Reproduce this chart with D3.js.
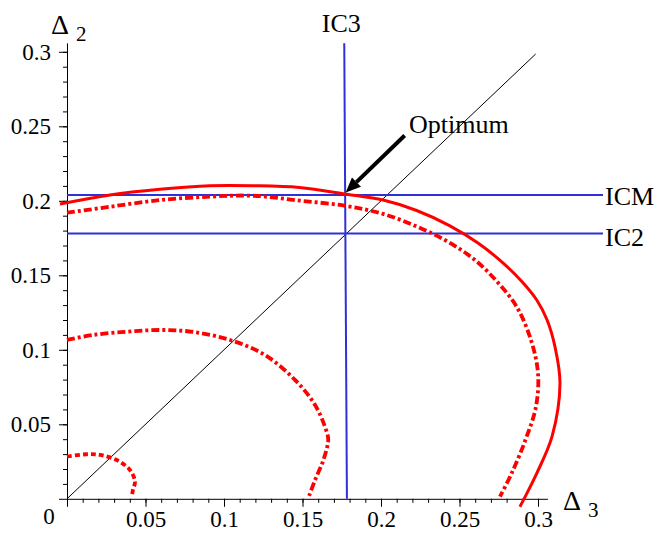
<!DOCTYPE html>
<html lang="en">
<head>
<meta charset="UTF-8">
<title>Isocurves</title>
<script src="https://cdn.jsdelivr.net/npm/d3@7"></script>
<style>
  body { margin: 0; background: #fff; }
</style>
</head>
<body>
<script>
// tick values
const xTicks = [0.05, 0.1, 0.15, 0.2, 0.25, 0.3];
const yTicks = [0.05, 0.1, 0.15, 0.2, 0.25, 0.3];
const tickLabels = ["0.05", "0.1", "0.15", "0.2", "0.25", "0.3"];

// red level curves, [delta3, delta2]
const curveSolid = [
  [-0.0045, 0.1978], [0.0274, 0.2039], [0.0592, 0.2077], [0.0911, 0.2101],
  [0.1185, 0.2101], [0.148, 0.2089], [0.1782, 0.2044], [0.2013, 0.2005],
  [0.2227, 0.1935], [0.2439, 0.1832], [0.2620, 0.1715], [0.2780, 0.1580],
  [0.2900, 0.1455], [0.2992, 0.1334], [0.3058, 0.1200], [0.3108, 0.1021],
  [0.3140, 0.0775], [0.3090, 0.0420], [0.2992, 0.0171], [0.2885, -0.0053]
];
const curveOuter = [
  [0, 0.192], [0.0274, 0.196], [0.0592, 0.2005], [0.0911, 0.2028],
  [0.1185, 0.2034], [0.1484, 0.2001], [0.1782, 0.1965], [0.2013, 0.1912],
  [0.2227, 0.1828], [0.2418, 0.1730], [0.2590, 0.1610], [0.2737, 0.1460],
  [0.2864, 0.1289], [0.2955, 0.1066], [0.3000, 0.0842], [0.2987, 0.0618],
  [0.2920, 0.0395], [0.2832, 0.0171], [0.2758, 0.0014]
];
const curveMiddle = [
  [0, 0.1066], [0.0168, 0.110], [0.038, 0.1121], [0.0592, 0.1133],
  [0.0804, 0.112], [0.1038, 0.1066], [0.1261, 0.0965], [0.1452, 0.0798],
  [0.158, 0.063], [0.165, 0.0462], [0.1664, 0.0395], [0.1633, 0.026],
  [0.158, 0.0126], [0.1537, 0.0005]
];
const curveSmall = [
  [0, 0.0283], [0.0125, 0.0299], [0.021, 0.0294], [0.0317, 0.026],
  [0.0401, 0.0193], [0.0433, 0.0115], [0.042, 0.0059], [0.0412, 0.0014]
];

// blue isocurves
const ic3Line = [[0.1766, 0.3057], [0.1783, 0]];
const icmLevel = 0.2039;
const ic2Level = 0.178;
const icEnd = 0.3414;
const diagonal = [[0, 0], [0.2985, 0.2985]];
const optimum = [0.1775, 0.2049];

const width = 654, height = 536;
const serif = "'Liberation Serif', 'Times New Roman', Times, 'DejaVu Serif', serif";
const svg = d3.select("body").append("svg")
  .attr("width", width).attr("height", height)
  .attr("font-family", serif);

const x = d3.scaleLinear().domain([0, 0.306]).range([67, 67 + 0.306 * 1570]);
const y = d3.scaleLinear().domain([0, 0.306]).range([498.8, 498.8 - 0.306 * 1490]);

const line = d3.line().x(d => x(d[0])).y(d => y(d[1]));
const smooth = d3.line().x(d => x(d[0])).y(d => y(d[1])).curve(d3.curveCatmullRom.alpha(0.5));

// minor ticks
const minor = d3.range(1, 31).map(i => i / 100);
svg.append("g").attr("transform", `translate(0,${y(0)})`)
  .call(d3.axisBottom(x).tickValues(minor).tickSize(4).tickSizeOuter(0).tickFormat(""))
  .call(g => g.select(".domain").remove());
svg.append("g").attr("transform", `translate(${x(0)},0)`)
  .call(d3.axisLeft(y).tickValues(minor).tickSize(4).tickSizeOuter(0).tickFormat(""))
  .call(g => g.select(".domain").remove());

// major ticks + axis lines
svg.append("g").attr("transform", `translate(0,${y(0)})`)
  .call(d3.axisBottom(x).tickValues([0].concat(xTicks)).tickSize(8).tickSizeOuter(0).tickPadding(4)
    .tickFormat(d => d === 0 ? "" : tickLabels[xTicks.indexOf(d)]))
  .attr("font-family", serif).attr("font-size", 23);
svg.append("g").attr("transform", `translate(${x(0)},0)`)
  .call(d3.axisLeft(y).tickValues([0].concat(yTicks)).tickSize(8).tickSizeOuter(0).tickPadding(8)
    .tickFormat(d => d === 0 ? "" : tickLabels[yTicks.indexOf(d)]))
  .attr("font-family", serif).attr("font-size", 23);

svg.append("text").attr("x", x(0) - 18).attr("y", y(0) + 25)
  .attr("text-anchor", "middle").attr("font-size", 23).text("0");

// axis titles
const t2 = svg.append("text").attr("x", 51).attr("y", 34).attr("font-size", 28);
t2.append("tspan").text("Δ");
t2.append("tspan").attr("dx", 7).attr("dy", 7).attr("font-size", 21).text("2");
const t3 = svg.append("text").attr("x", 563).attr("y", 510).attr("font-size", 28);
t3.append("tspan").text("Δ");
t3.append("tspan").attr("dx", 7).attr("dy", 7).attr("font-size", 21).text("3");

// diagonal
svg.append("path").attr("d", line(diagonal))
  .attr("fill", "none").attr("stroke", "#000").attr("stroke-width", 1);

// blue lines
const blue = "#3030d8";
svg.append("path").attr("d", line(ic3Line))
  .attr("fill", "none").attr("stroke", blue).attr("stroke-width", 2);
svg.append("path").attr("d", line([[0, icmLevel], [icEnd, icmLevel]]))
  .attr("fill", "none").attr("stroke", blue).attr("stroke-width", 2);
svg.append("path").attr("d", line([[0, ic2Level], [icEnd, ic2Level]]))
  .attr("fill", "none").attr("stroke", blue).attr("stroke-width", 2);

svg.append("text").attr("x", x(icEnd) + 2).attr("y", y(icmLevel) + 10)
  .attr("font-size", 26).text("ICM");
svg.append("text").attr("x", x(icEnd) + 2).attr("y", y(ic2Level) + 12)
  .attr("font-size", 26).text("IC2");
svg.append("text").attr("x", x(ic3Line[0][0]) - 3).attr("y", 32)
  .attr("text-anchor", "middle").attr("font-size", 26).text("IC3");

// red curves
const red = "#ff0000";
svg.append("path").attr("d", smooth(curveSolid))
  .attr("fill", "none").attr("stroke", red).attr("stroke-width", 3);
svg.append("path").attr("d", smooth(curveOuter))
  .attr("fill", "none").attr("stroke", red).attr("stroke-width", 3.8)
  .attr("stroke-dasharray", "8,3,3,3");
svg.append("path").attr("d", smooth(curveMiddle))
  .attr("fill", "none").attr("stroke", red).attr("stroke-width", 3.8)
  .attr("stroke-dasharray", "8,3,3,3");
svg.append("path").attr("d", smooth(curveSmall))
  .attr("fill", "none").attr("stroke", red).attr("stroke-width", 3.8)
  .attr("stroke-dasharray", "5,3");

// optimum arrow
const tip = [x(optimum[0]), y(optimum[1]) - 1];
const tail = [tip[0] + 59, tip[1] - 57];
const ang = Math.atan2(tip[1] - tail[1], tip[0] - tail[0]);
const headLen = 15, headW = 6.5;
const base = [tip[0] - headLen * Math.cos(ang), tip[1] - headLen * Math.sin(ang)];
svg.append("line")
  .attr("x1", tail[0]).attr("y1", tail[1]).attr("x2", base[0]).attr("y2", base[1])
  .attr("stroke", "#000").attr("stroke-width", 4);
svg.append("polygon")
  .attr("points", [
    tip,
    [base[0] + headW * Math.sin(ang), base[1] - headW * Math.cos(ang)],
    [base[0] - headW * Math.sin(ang), base[1] + headW * Math.cos(ang)]
  ].map(p => p.join(",")).join(" "))
  .attr("fill", "#000");
svg.append("text").attr("x", 409).attr("y", 133).attr("font-size", 26).text("Optimum");
</script>
</body>
</html>
